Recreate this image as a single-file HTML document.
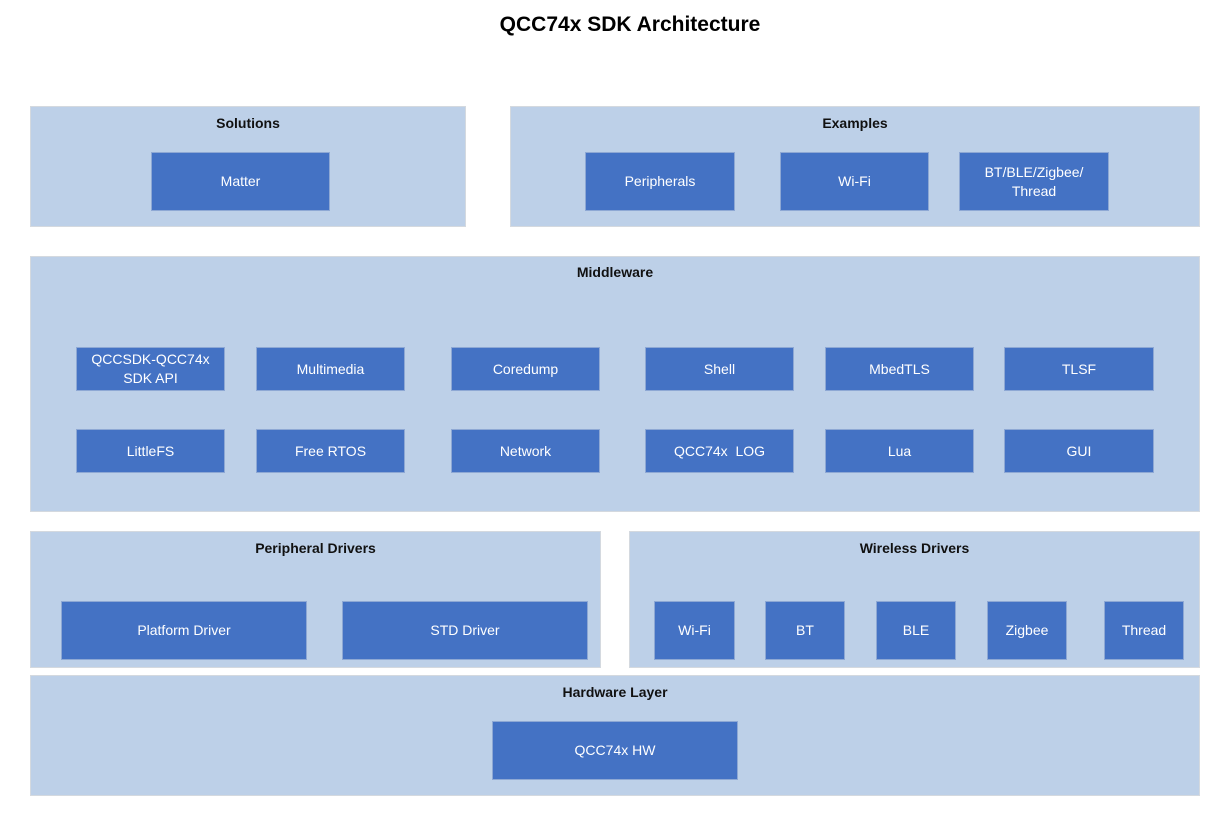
<!DOCTYPE html>
<html><head><meta charset="utf-8"><style>
body{margin:0;width:1230px;height:831px;background:#fff;position:relative;font-family:"Liberation Sans",sans-serif;overflow:hidden}
.c{position:absolute;background:#bdd0e8;border:1px solid #d4d9df;box-sizing:border-box}
.t{position:absolute;left:0;right:0;text-align:center;font-weight:bold;font-size:14px;color:#111}
.b{position:absolute;background:#4472c4;border:1px solid #8ea8d4;box-sizing:border-box;color:#fff;font-size:14px;display:flex;align-items:center;justify-content:center;text-align:center;line-height:19px}
h1{position:absolute;top:13px;left:0;width:1260px;text-align:center;font-size:21px;margin:0;color:#000}
</style></head><body>
<h1>QCC74x SDK Architecture</h1>
<div class="c" style="left:30px;top:106px;width:436px;height:121px"><div class="t" style="top:8px">Solutions</div></div>
<div class="c" style="left:510px;top:106px;width:690px;height:121px"><div class="t" style="top:8px">Examples</div></div>
<div class="c" style="left:30px;top:256px;width:1170px;height:256px"><div class="t" style="top:7px">Middleware</div></div>
<div class="c" style="left:30px;top:531px;width:571px;height:137px"><div class="t" style="top:8px">Peripheral Drivers</div></div>
<div class="c" style="left:629px;top:531px;width:571px;height:137px"><div class="t" style="top:8px">Wireless Drivers</div></div>
<div class="c" style="left:30px;top:675px;width:1170px;height:121px"><div class="t" style="top:8px">Hardware Layer</div></div>

<div class="b" style="left:151px;top:152px;width:179px;height:59px">Matter</div>
<div class="b" style="left:585px;top:152px;width:150px;height:59px">Peripherals</div>
<div class="b" style="left:780px;top:152px;width:149px;height:59px">Wi-Fi</div>
<div class="b" style="left:959px;top:152px;width:150px;height:59px">BT/BLE/Zigbee/<br>Thread</div>

<div class="b" style="left:76px;top:347px;width:149px;height:44px">QCCSDK-QCC74x<br>SDK API</div>
<div class="b" style="left:256px;top:347px;width:149px;height:44px">Multimedia</div>
<div class="b" style="left:451px;top:347px;width:149px;height:44px">Coredump</div>
<div class="b" style="left:645px;top:347px;width:149px;height:44px">Shell</div>
<div class="b" style="left:825px;top:347px;width:149px;height:44px">MbedTLS</div>
<div class="b" style="left:1004px;top:347px;width:150px;height:44px">TLSF</div>
<div class="b" style="left:76px;top:429px;width:149px;height:44px">LittleFS</div>
<div class="b" style="left:256px;top:429px;width:149px;height:44px">Free RTOS</div>
<div class="b" style="left:451px;top:429px;width:149px;height:44px">Network</div>
<div class="b" style="left:645px;top:429px;width:149px;height:44px">QCC74x&nbsp; LOG</div>
<div class="b" style="left:825px;top:429px;width:149px;height:44px">Lua</div>
<div class="b" style="left:1004px;top:429px;width:150px;height:44px">GUI</div>

<div class="b" style="left:61px;top:601px;width:246px;height:59px">Platform Driver</div>
<div class="b" style="left:342px;top:601px;width:246px;height:59px">STD Driver</div>
<div class="b" style="left:654px;top:601px;width:81px;height:59px">Wi-Fi</div>
<div class="b" style="left:765px;top:601px;width:80px;height:59px">BT</div>
<div class="b" style="left:876px;top:601px;width:80px;height:59px">BLE</div>
<div class="b" style="left:987px;top:601px;width:80px;height:59px">Zigbee</div>
<div class="b" style="left:1104px;top:601px;width:80px;height:59px">Thread</div>

<div class="b" style="left:492px;top:721px;width:246px;height:59px">QCC74x HW</div>
</body></html>
